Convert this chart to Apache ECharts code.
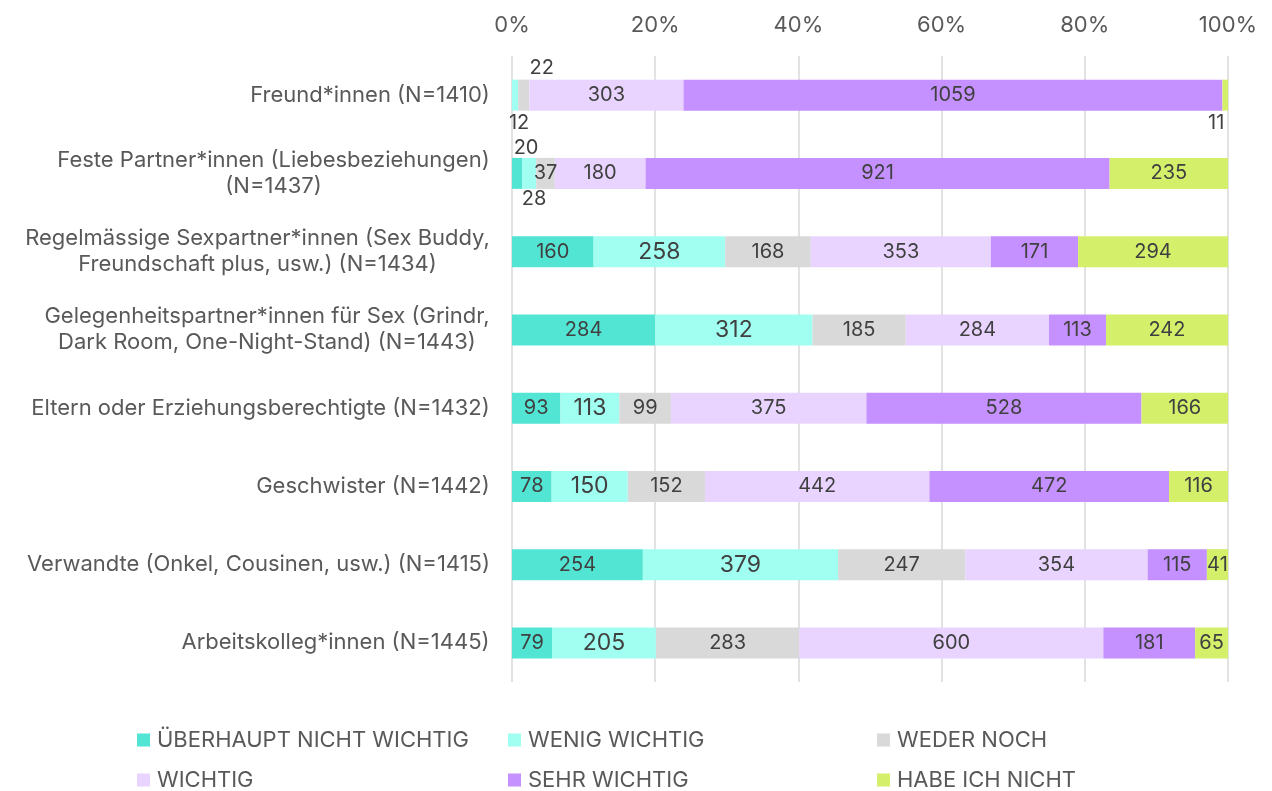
<!DOCTYPE html>
<html>
<head>
<meta charset="utf-8">
<script src="https://cdn.jsdelivr.net/npm/echarts@6/dist/echarts.min.js"></script>
<style>
  html, body { margin: 0; padding: 0; background: #fff; }
  #chart { width: 1272px; height: 791px; }
</style>
</head>
<body>
<div id="chart"></div>
<script>
// categories, top to bottom
const categories = [
  'Freund*innen (N=1410)',
  'Feste Partner*innen (Liebesbeziehungen)\n(N=1437)',
  'Regelmässige Sexpartner*innen (Sex Buddy,\nFreundschaft plus, usw.) (N=1434)',
  'Gelegenheitspartner*innen für Sex (Grindr,\nDark Room, One-Night-Stand) (N=1443)',
  'Eltern oder Erziehungsberechtigte (N=1432)',
  'Geschwister (N=1442)',
  'Verwandte (Onkel, Cousinen, usw.) (N=1415)',
  'Arbeitskolleg*innen (N=1445)'
]

// counts per answer
const ueberhaupt = [0, 20, 160, 284, 93, 78, 254, 79]
const wenig = [12, 28, 258, 312, 113, 150, 379, 205]
const weder = [22, 37, 168, 185, 99, 152, 247, 283]
const wichtig = [303, 180, 353, 284, 375, 442, 354, 600]
const sehr = [1059, 921, 171, 113, 528, 472, 115, 181]
const habe = [11, 235, 294, 242, 166, 116, 41, 65]

const seriesNames = ['ÜBERHAUPT NICHT WICHTIG', 'WENIG WICHTIG', 'WEDER NOCH', 'WICHTIG', 'SEHR WICHTIG', 'HABE ICH NICHT']
const xTicks = [0, 20, 40, 60, 80, 100]

const allSeries = [ueberhaupt, wenig, weder, wichtig, sehr, habe]
const colors = ['#52E5D3', '#A0FFF0', '#D9D9D9', '#E8D4FF', '#C590FF', '#D4F06B']
const FONT = 'Inter'
const labelSize = 20

// small segments get their label outside the bar (series index, row index)
const outsideLabels = {
  '1-0': { position: 'bottom', offset: [4, 0], fontSize: labelSize },
  '2-0': { position: 'top', offset: [18, 0] },
  '5-0': { position: 'bottom', offset: [-9, 0] },
  '0-1': { position: 'top', offset: [9, 2] },
  '1-1': { position: 'bottom', offset: [5, -2], fontSize: labelSize }
}

const rowSums = categories.map((c, i) => allSeries.reduce((s, arr) => s + arr[i], 0))

// wrapped category labels: centre the lines within the widest one
const ctx = document.createElement('canvas').getContext('2d')
const catFont = 22
ctx.font = catFont + 'px ' + FONT
const rich = {}
categories.forEach((c, i) => {
  const w = Math.max(...c.split('\n').map(l => ctx.measureText(l).width))
  rich['c' + i] = { width: Math.ceil(w), align: 'center', fontSize: catFont, fontFamily: FONT, color: '#595959', lineHeight: 26 }
})

const series = allSeries.map((arr, si) => ({
  name: seriesNames[si],
  type: 'bar',
  stack: 'total',
  barWidth: 31,
  itemStyle: { color: colors[si] },
  label: {
    show: true,
    position: 'inside',
    color: '#404040',
    fontFamily: FONT,
    fontSize: si === 1 ? 23 : labelSize,
    formatter: p => p.data.count
  },
  data: arr.map((v, i) => {
    const item = { value: v / rowSums[i] * 100, count: v }
    const tweak = outsideLabels[si + '-' + i]
    if (v === 0) item.label = { show: false }
    if (tweak) item.label = Object.assign({ distance: 2 }, tweak)
    return item
  })
}))

const legendCols = [[0, 3], [1, 4], [2, 5]]
const legendLeft = [132, 503, 872]

const chart = echarts.init(document.getElementById('chart'))
chart.setOption({
  backgroundColor: '#fff',
  animation: false,
  textStyle: { fontFamily: FONT },
  grid: { left: 512, right: 44, top: 56, bottom: 109 },
  xAxis: {
    type: 'value',
    position: 'top',
    min: xTicks[0],
    max: xTicks[xTicks.length - 1],
    interval: xTicks[1] - xTicks[0],
    axisLine: { show: false },
    axisTick: { show: false },
    splitLine: { show: true, lineStyle: { color: '#D9D9D9', width: 1.5 } },
    axisLabel: { formatter: '{value}%', color: '#595959', fontSize: 22, fontFamily: FONT, margin: 20 }
  },
  yAxis: {
    type: 'category',
    inverse: true,
    data: categories,
    axisLine: { show: false },
    axisTick: { show: false },
    axisLabel: {
      margin: 22,
      rich,
      formatter: (value, idx) => value.split('\n').map(l => '{c' + idx + '|' + l + '}').join('\n')
    }
  },
  legend: legendCols.map((col, k) => ({
    orient: 'vertical',
    left: legendLeft[k],
    top: 723,
    height: 80,
    padding: 5,
    itemWidth: 13,
    itemHeight: 13,
    itemGap: 16,
    icon: 'rect',
    selectedMode: false,
    data: col.map(i => seriesNames[i]),
    textStyle: { color: '#595959', fontSize: 22, fontFamily: FONT, lineHeight: 24, padding: [0, 0, 0, 2] }
  })),
  series
})
</script>
</body>
</html>
